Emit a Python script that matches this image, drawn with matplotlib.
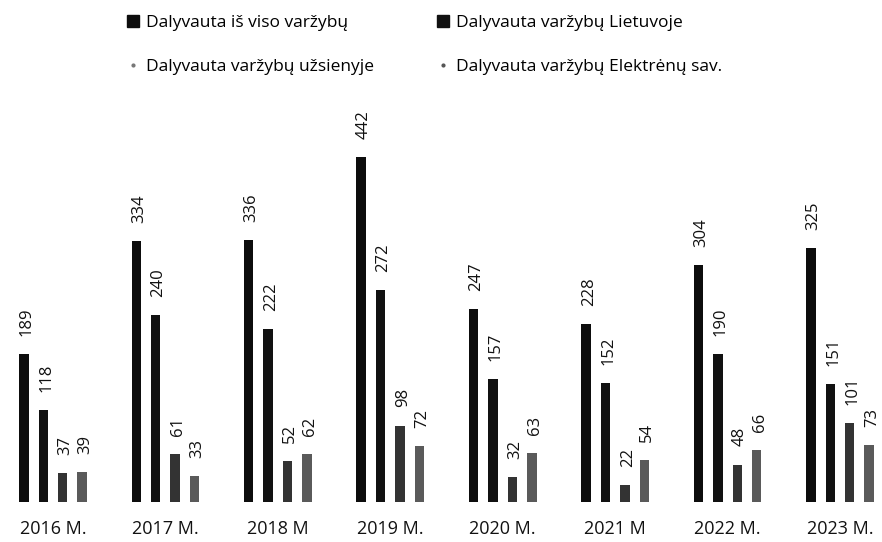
import matplotlib.pyplot as plt
from matplotlib.lines import Line2D
import numpy as np

plt.rcParams['font.family'] = ['Open Sans', 'DejaVu Sans']

metai = ["2016 M.", "2017 M.", "2018 M", "2019 M.", "2020 M.", "2021 M", "2022 M.", "2023 M."]
is_viso = [189, 334, 336, 442, 247, 228, 304, 325]
lietuvoje = [118, 240, 222, 272, 157, 152, 190, 151]
uzsienyje = [37, 61, 52, 98, 32, 22, 48, 101]
elektrenai = [39, 33, 62, 72, 63, 54, 66, 73]

serijos = [
    ("Dalyvauta iš viso varžybų", is_viso, "#0d0d0d"),
    ("Dalyvauta varžybų Lietuvoje", lietuvoje, "#111111"),
    ("Dalyvauta varžybų užsienyje", uzsienyje, "#333333"),
    ("Dalyvauta varžybų Elektrėnų sav.", elektrenai, "#5a5a5a"),
]

fig = plt.figure(figsize=(8.82, 5.42), dpi=100)
ax = fig.add_axes([0, 40 / 542, 1, 412 / 542])

x = np.arange(len(metai))
d = 0.173
w = 0.084
for k, (vardas, reiksmes, spalva) in enumerate(serijos):
    poz = x + (k - 1.5) * d
    bars = ax.bar(poz, reiksmes, width=w, color=spalva)
    for b, v in zip(bars, reiksmes):
        ax.annotate(str(v), (b.get_x() + b.get_width() / 2, v),
                    xytext=(2, 13), textcoords="offset points",
                    rotation=90, ha="center", va="bottom", fontsize=12,
                    color="#111111")

ax.set_xlim(-53 / 112.43, (882 - 53) / 112.43)
ax.set_ylim(0, 412 / 0.7805)
ax.set_xticks(x)
ax.set_xticklabels(metai, fontsize=13, color="#111111")
ax.tick_params(axis="x", length=0, pad=13)
ax.set_yticks([])
for s in ax.spines.values():
    s.set_visible(False)

# legenda: stulpeliais, kad eilutes sutaptu su originalu
rankenos = [
    Line2D([], [], marker="s", ls="", color="#0d0d0d", ms=8),
    Line2D([], [], marker=".", ls="", color="#777777", ms=4),
    Line2D([], [], marker="s", ls="", color="#111111", ms=8),
    Line2D([], [], marker=".", ls="", color="#555555", ms=4),
]
etiketes = [serijos[0][0], serijos[2][0], serijos[1][0], serijos[3][0]]
fig.legend(rankenos, etiketes, ncol=2, loc="upper left",
           bbox_to_anchor=(110 / 882, 1 + 1 / 542), frameon=False,
           fontsize=12.5, handlelength=0.8, handletextpad=0.35,
           labelspacing=1.6, columnspacing=3.6)

fig.savefig("out.png", dpi=100)
